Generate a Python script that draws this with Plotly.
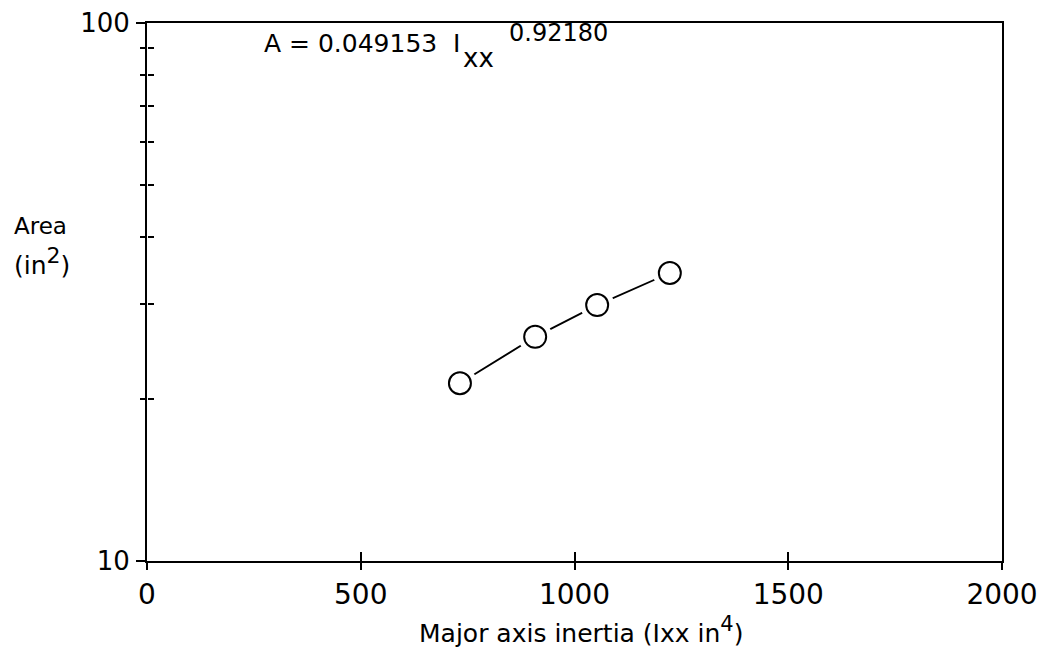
import plotly.graph_objects as go

# Data
ixx = [732, 908, 1053, 1223]          # Major axis inertia (in^4)
area = [21.4, 26.1, 29.9, 34.3]       # Area (in^2)

x_ticks = [0, 500, 1000, 1500, 2000]
y_ticks = [10, 100]
y_minor = [20, 30, 40, 50, 60, 70, 80, 90]

FONT = "DejaVu Sans"

# page offset of the figure (default body margin)
OX, OY = 8, 8
# target plot box in page pixels
PL, PR, PT, PB = 147, 1002, 23, 561


def px(x):
    return (x - PL) / (PR - PL)


def py(y):
    return (PB - y) / (PB - PT)


fig = go.Figure()
fig.add_trace(go.Scatter(x=ixx, y=area, mode="lines",
                         line=dict(color="black", width=1.8),
                         showlegend=False, hoverinfo="skip"))
fig.add_trace(go.Scatter(x=ixx, y=area, mode="markers",
                         marker=dict(symbol="circle", size=34, color="white",
                                     line=dict(width=0)),
                         showlegend=False, hoverinfo="skip"))
fig.add_trace(go.Scatter(x=ixx, y=area, mode="markers",
                         marker=dict(symbol="circle", size=22, color="white",
                                     line=dict(color="black", width=2)),
                         showlegend=False))

fig.update_layout(
    width=1050, height=658,
    margin=dict(l=PL - OX, r=1050 - (PR - OX), t=PT - OY, b=658 - (PB - OY),
                autoexpand=False),
    paper_bgcolor="white", plot_bgcolor="white",
    font=dict(family=FONT, color="black"),
    xaxis=dict(range=[0, 2000], tickvals=x_ticks, ticktext=[str(v) for v in x_ticks],
               ticks="outside", ticklen=7, tickwidth=1.5, tickcolor="black",
               showline=True, linecolor="black", linewidth=2, mirror=True,
               showgrid=False, zeroline=False, automargin=False,
               tickfont=dict(size=28, family=FONT), ticklabelstandoff=0),
    xaxis2=dict(range=[0, 2000], tickvals=x_ticks, overlaying="x", anchor="y",
                ticks="inside", ticklen=9, tickwidth=1.5, tickcolor="black",
                showticklabels=False, showgrid=False, zeroline=False, showline=False),
    yaxis=dict(type="log", range=[1, 2], tickvals=y_ticks, ticktext=["10", "100"],
               ticks="outside", ticklen=9, tickwidth=1.5, tickcolor="black",
               minor=dict(tickvals=y_minor, ticks="outside", ticklen=5,
                          tickwidth=1.5, tickcolor="black", showgrid=False),
               showline=True, linecolor="black", linewidth=2, mirror=True,
               showgrid=False, zeroline=False, automargin=False,
               tickfont=dict(size=26, family=FONT), ticklabelstandoff=1),
    yaxis2=dict(type="log", range=[1, 2], tickvals=[10] + y_minor,
                ticktext=[""] * 9, overlaying="y",
                anchor="free", position=0, side="left",
                ticks="inside", ticklen=6, tickwidth=1.5, tickcolor="black",
                showticklabels=True, showgrid=False, zeroline=False, showline=False),
)

# invisible trace to activate overlay axes
fig.add_trace(go.Scatter(x=[1000], y=[20], xaxis="x2", yaxis="y2", mode="markers",
                         marker=dict(opacity=0), showlegend=False, hoverinfo="skip"))

ann = dict(xref="paper", yref="paper", showarrow=False)
# equation
fig.add_annotation(text="A = 0.049153&nbsp;&nbsp;I", x=px(262), y=py(44),
                   xanchor="left", yanchor="middle", font=dict(size=25, family=FONT), **ann)
fig.add_annotation(text="xx", x=px(461), y=py(58),
                   xanchor="left", yanchor="middle", font=dict(size=26, family=FONT), **ann)
fig.add_annotation(text="0.92180", x=px(507), y=py(33),
                   xanchor="left", yanchor="middle", font=dict(size=24, family=FONT), **ann)
# y title
fig.add_annotation(text="Area", x=px(12), y=py(226),
                   xanchor="left", yanchor="middle", font=dict(size=23, family=FONT), **ann)
fig.add_annotation(text="(in<sup><span style='font-size:22px'>2</span></sup>)",
                   x=px(12), y=py(261),
                   xanchor="left", yanchor="middle", font=dict(size=25, family=FONT), **ann)
# x title
fig.add_annotation(text="Major axis inertia (Ixx in<sup><span style='font-size:21px'>4</span></sup>)",
                   x=px(581), y=py(630),
                   xanchor="center", yanchor="middle", font=dict(size=25, family=FONT), **ann)

fig.write_html("out.html")
